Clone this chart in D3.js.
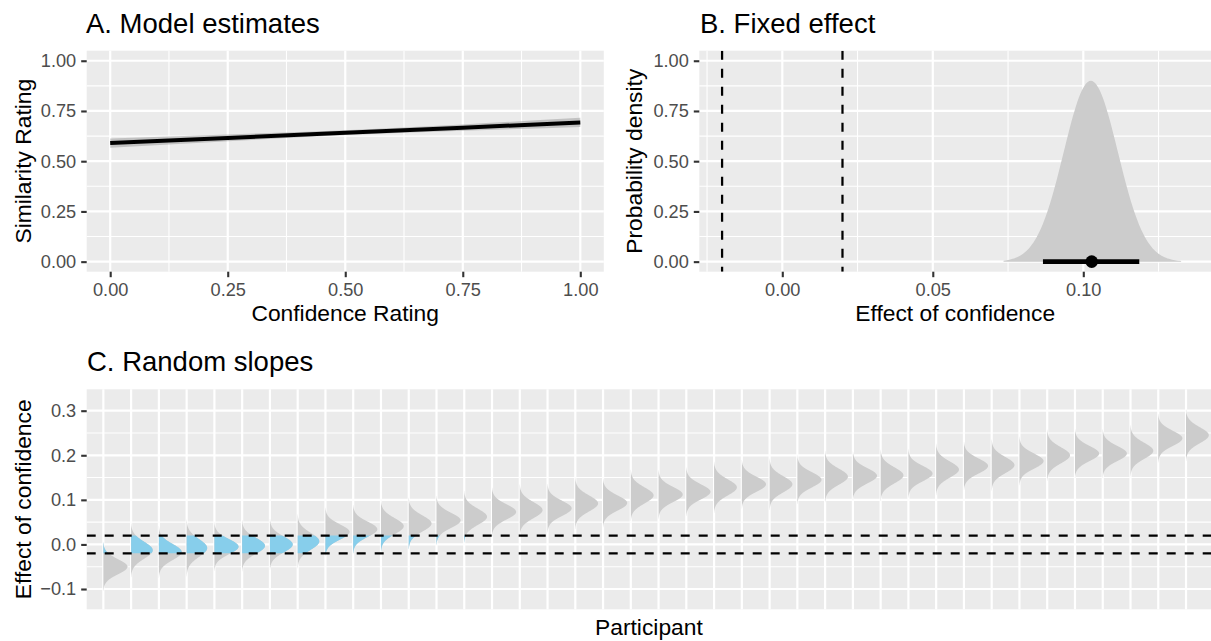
<!DOCTYPE html>
<html>
<head>
<meta charset="utf-8">
<script src="https://cdn.jsdelivr.net/npm/d3@7"></script>
<style>
  body { margin: 0; background: #fff; }
  text { font-family: "Liberation Sans", Arial, Helvetica, sans-serif; }
</style>
</head>
<body>
<svg id="chart" width="1211" height="641"></svg>
<script>
// ---- A. model estimates (line + ribbon)
const confidence = [0, 0.25, 0.5, 0.75, 1];
const estimate   = [0.590, 0.616, 0.642, 0.667, 0.693];
const lower      = [0.567, 0.599, 0.630, 0.651, 0.670];
const upper      = [0.613, 0.633, 0.654, 0.683, 0.716];
const ticksA     = [0, 0.25, 0.5, 0.75, 1];

// ---- B. fixed effect posterior
const fixedMean = 0.1025;
const fixedSd = 0.009;
const fixedRange = [0.0735, 0.1326];
const fixedPoint = 0.1028;
const fixedInterval = [0.0866, 0.1186];
const ticksBx = [0, 0.05, 0.10];
const rope = [-0.02, 0.02];

// ---- C. random slopes per participant
const participants = d3.range(1, 41);
const slopeMean = [-0.050, -0.013, -0.017, -0.008, -0.005, -0.003, 0.000, 0.007, 0.028, 0.034,
                    0.041,  0.047,  0.054,  0.062,  0.073,  0.077, 0.081, 0.092, 0.093, 0.110,
                    0.112,  0.118,  0.128,  0.135,  0.135,  0.145, 0.152, 0.154, 0.155, 0.159,
                    0.168,  0.176,  0.178,  0.187,  0.200,  0.204, 0.204, 0.210, 0.238, 0.245];
const slopeSd   = [0.017, 0.019, 0.018, 0.020, 0.017, 0.018, 0.018, 0.019, 0.017, 0.017,
                   0.018, 0.018, 0.017, 0.018, 0.017, 0.018, 0.017, 0.018, 0.017, 0.018,
                   0.017, 0.017, 0.018, 0.017, 0.018, 0.017, 0.018, 0.017, 0.018, 0.017,
                   0.018, 0.017, 0.018, 0.017, 0.018, 0.017, 0.017, 0.018, 0.017, 0.018];
const ticksCy = [-0.1, 0, 0.1, 0.2, 0.3];

const svg = d3.select("#chart");
const BG = "#EBEBEB", SLAB = "#CCCCCC", ROPEFILL = "#87CEEB";
const TITLE = 27.5, AXT = 22.8, TICK = "18.2px";

const dnorm = (x, m, s) => Math.exp(-0.5 * ((x - m) / s) ** 2) / (s * Math.sqrt(2 * Math.PI));

// draws background, grid and axes of one ggplot-like panel
function panel(id, xs, ys, xMajor, xMinor, yMajor, yMinor, yFmt, xFmt) {
  const [x0, x1] = xs.range();
  const [y1, y0] = ys.range();
  const g = svg.append("g");
  svg.append("clipPath").attr("id", id).append("rect")
    .attr("x", x0).attr("y", y0).attr("width", x1 - x0).attr("height", y1 - y0);
  g.append("rect").attr("x", x0).attr("y", y0).attr("width", x1 - x0).attr("height", y1 - y0).attr("fill", BG);
  const grid = g.append("g").attr("stroke", "#fff");
  grid.selectAll(".hm").data(yMinor).enter().append("line")
    .attr("x1", x0).attr("x2", x1).attr("y1", d => ys(d)).attr("y2", d => ys(d)).attr("stroke-width", 1.1);
  grid.selectAll(".vm").data(xMinor).enter().append("line")
    .attr("y1", y0).attr("y2", y1).attr("x1", d => xs(d)).attr("x2", d => xs(d)).attr("stroke-width", 1.1);
  grid.selectAll(".hM").data(yMajor).enter().append("line")
    .attr("x1", x0).attr("x2", x1).attr("y1", d => ys(d)).attr("y2", d => ys(d)).attr("stroke-width", 2.2);
  grid.selectAll(".vM").data(xMajor).enter().append("line")
    .attr("y1", y0).attr("y2", y1).attr("x1", d => xs(d)).attr("x2", d => xs(d)).attr("stroke-width", 2.2);

  const ya = svg.append("g").attr("transform", `translate(${x0},0)`)
    .call(d3.axisLeft(ys).tickValues(yMajor).tickFormat(yFmt).tickSize(5.5).tickPadding(5));
  style(ya);
  if (xFmt) {
    const xa = svg.append("g").attr("transform", `translate(0,${y1})`)
      .call(d3.axisBottom(xs).tickValues(xMajor).tickFormat(xFmt).tickSize(5.5).tickPadding(6));
    style(xa);
  }
  return g;
}
function style(a) {
  a.select(".domain").remove();
  a.selectAll("line").attr("stroke", "#333").attr("stroke-width", 2.1);
  a.selectAll("text").attr("fill", "#4D4D4D").style("font-size", TICK)
    .style("font-family", '"Liberation Sans", Arial, Helvetica, sans-serif');
}
function label(txt, x, y, size, rot, anchor) {
  svg.append("text").text(txt).attr("font-size", size).attr("fill", "#000")
    .attr("text-anchor", anchor || "middle")
    .attr("transform", `translate(${x},${y})` + (rot ? " rotate(-90)" : ""));
}

const f2 = d3.format(".2f"), f1 = d3.format(".1f");

// ================= Panel A
const xA = d3.scaleLinear().domain([-0.05, 1.05]).range([86.7, 603.8]);
const yA = d3.scaleLinear().domain([-0.05, 1.05]).range([271.7, 50.7]);
panel("clipA", xA, yA, ticksA, [0.125, 0.375, 0.625, 0.875], ticksA, [0.125, 0.375, 0.625, 0.875], f2, f2);
const rowsA = confidence.map((c, i) => ({c, e: estimate[i], lo: lower[i], hi: upper[i]}));
const gA = svg.append("g").attr("clip-path", "url(#clipA)");
gA.append("path").datum(rowsA)
  .attr("d", d3.area().x(d => xA(d.c)).y0(d => yA(d.lo)).y1(d => yA(d.hi)).curve(d3.curveMonotoneX))
  .attr("fill", "#999").attr("opacity", 0.5);
gA.append("path").datum(rowsA)
  .attr("d", d3.line().x(d => xA(d.c)).y(d => yA(d.e)))
  .attr("fill", "none").attr("stroke", "#000").attr("stroke-width", 4);

label("A. Model estimates", 86, 33.3, TITLE, false, "start");
label("Confidence Rating", 345.2, 321, AXT);
label("Similarity Rating", 30.5, 161.2, AXT, true);

// ================= Panel B
const xB = d3.scaleLinear().domain([-0.02757, 0.14243]).range([699.3, 1211]);
const yB = d3.scaleLinear().domain([-0.05, 1.05]).range([271.7, 50.7]);
panel("clipB", xB, yB, ticksBx, [-0.025, 0.025, 0.075, 0.125], ticksA, [0.125, 0.375, 0.625, 0.875], f2, f2);
const gB = svg.append("g").attr("clip-path", "url(#clipB)");
const peakB = dnorm(fixedMean, fixedMean, fixedSd);
const densB = d3.range(fixedRange[0], fixedRange[1] + 1e-9, 0.0005)
  .map(v => ({v, t: 0.9 * dnorm(v, fixedMean, fixedSd) / peakB}));
gB.append("path").datum(densB)
  .attr("d", d3.area().x(d => xB(d.v)).y0(yB(0)).y1(d => yB(d.t)))
  .attr("fill", SLAB);
gB.selectAll(".rope").data(rope).enter().append("line")
  .attr("x1", d => xB(d)).attr("x2", d => xB(d)).attr("y1", 50.7).attr("y2", 271.7)
  .attr("stroke", "#000").attr("stroke-width", 2.25).attr("stroke-dasharray", "9,9");
gB.append("line").attr("x1", xB(fixedInterval[0])).attr("x2", xB(fixedInterval[1]))
  .attr("y1", yB(0)).attr("y2", yB(0)).attr("stroke", "#000").attr("stroke-width", 4.7);
gB.append("circle").attr("cx", xB(fixedPoint)).attr("cy", yB(0)).attr("r", 6.3).attr("fill", "#000");

label("B. Fixed effect", 700, 33.3, TITLE, false, "start");
label("Effect of confidence", 955.2, 321, AXT);
label("Probability density", 642, 161.2, AXT, true);

// ================= Panel C
const xC = d3.scaleLinear().domain([0.4, 40.9]).range([86.7, 1211]);
const yC = d3.scaleLinear().domain([-0.1455, 0.348]).range([609.3, 389.3]);
panel("clipC", xC, yC, participants, [], ticksCy, [-0.05, 0.05, 0.15, 0.25], f1, null);
svg.append("clipPath").attr("id", "clipRope").append("rect")
  .attr("x", 86.7).attr("width", 1124.3).attr("y", yC(rope[1])).attr("height", yC(rope[0]) - yC(rope[1]));

const maxPdf = d3.max(slopeSd, s => dnorm(0, 0, s));
const slabs = participants.map((p, i) => {
  const m = slopeMean[i], s = slopeSd[i];
  const pts = d3.range(m - 3.2 * s, m + 3.2 * s + 1e-9, s / 20)
    .map(v => ({v, t: 0.87 * dnorm(v, m, s) / maxPdf}));
  return {p, pts};
});
const slabArea = d => d3.area().y(q => yC(q.v)).x0(xC(d.p)).x1(q => xC(d.p + q.t))(d.pts);
const gC = svg.append("g").attr("clip-path", "url(#clipC)");
gC.selectAll(".slab").data(slabs).enter().append("path")
  .attr("d", slabArea).attr("fill", SLAB);
gC.append("g").attr("clip-path", "url(#clipRope)")
  .selectAll(".ropeSlab").data(slabs).enter().append("path")
  .attr("d", slabArea).attr("fill", ROPEFILL);
gC.selectAll(".ropeLine").data(rope).enter().append("line")
  .attr("x1", 86.7).attr("x2", 1211).attr("y1", d => yC(d)).attr("y2", d => yC(d))
  .attr("stroke", "#000").attr("stroke-width", 2.25).attr("stroke-dasharray", "9,9");

label("C. Random slopes", 87, 370.7, TITLE, false, "start");
label("Participant", 648.9, 635, AXT);
label("Effect of confidence", 31, 499.3, AXT, true);
</script>
</body>
</html>
